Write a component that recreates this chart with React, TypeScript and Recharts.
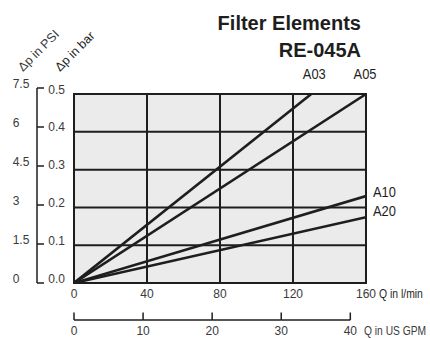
import React from 'react';
import { ComposedChart, Line, XAxis, YAxis, ReferenceArea, ReferenceLine } from 'recharts';

// ---- data ----
const FLOW_TICKS = [0, 40, 80, 120, 160]; // l/min
const GPM_TICKS = [0, 10, 20, 30, 40]; // US GPM
const BAR_TICKS = [0, 0.1, 0.2, 0.3, 0.4, 0.5];
const PSI_TICKS = [0, 1.5, 3, 4.5, 6, 7.5];
const FLOW_GRID = [40, 80, 120];
const BAR_GRID = [0.1, 0.2, 0.3, 0.4];
const FLOW_MAX = 160;
const DP_MAX = 0.5;
const PSI_MAX = 7.5;
const LPM_PER_GPM = 3.785;

const A03_FLOW = [0, 130];
const A03_DP = [0, 0.5];
const A05_FLOW = [0, 160];
const A05_DP = [0, 0.5];
const A10_FLOW = [0, 160];
const A10_DP = [0, 0.23];
const A20_FLOW = [0, 160];
const A20_DP = [0, 0.174];

const SERIES_NAMES = ['A03', 'A05', 'A10', 'A20'];

// GPM ticks expressed on the l/min scale
const GPM_TICKS_LPM = GPM_TICKS.map((g) => g * LPM_PER_GPM);

// ---- layout / style ----
const W = 430;
const H = 338;
const MARGIN = { top: 88, right: 64, bottom: 0, left: 0 };
const BAR_AXIS_W = 37;
const PSI_AXIS_W = 37;
const PLOT_W = W - MARGIN.left - MARGIN.right - BAR_AXIS_W - PSI_AXIS_W;
const DP_AXIS_TOP = 0.516; // pressure bracket reaches slightly above the grid

const FONT = '"Liberation Sans", Arial, Helvetica, sans-serif';
const INK = '#1e1e1e';
const TXT = '#3a3a3a';
const BG = '#ebebeb';

const LABEL_POS: Record<string, { dx: number; dy: number; anchor: string }> = {
  A03: { dx: 3, dy: -15, anchor: 'middle' },
  A05: { dx: -1, dy: -15, anchor: 'middle' },
  A10: { dx: 7, dy: 1, anchor: 'start' },
  A20: { dx: 7, dy: -1, anchor: 'start' },
};

const toPoints = (flow: number[], dp: number[]) => flow.map((q, i) => ({ q, dp: dp[i] }));
const SERIES = [
  toPoints(A03_FLOW, A03_DP),
  toPoints(A05_FLOW, A05_DP),
  toPoints(A10_FLOW, A10_DP),
  toPoints(A20_FLOW, A20_DP),
];

const BarTick = (props: any) => {
  const { x, y, payload } = props;
  return (
    <text x={x - 25.7} y={y - 0.5} textAnchor="start" fontFamily={FONT} fontSize={12} fill={TXT}>
      {Number(payload.value).toFixed(1)}
    </text>
  );
};

const PsiTick = (props: any) => {
  const { x, y, payload } = props;
  return (
    <g>
      <line x1={x} x2={x + 7} y1={y} y2={y} stroke={INK} strokeWidth={1.5} />
      <text x={x - 24.3} y={y - 0.5} textAnchor="start" fontFamily={FONT} fontSize={12} fill={TXT}>
        {String(payload.value)}
      </text>
    </g>
  );
};

const FlowTick = (props: any) => {
  const { x, y, payload } = props;
  return (
    <text x={x} y={y + 15.3} textAnchor="middle" fontFamily={FONT} fontSize={12} fill={TXT}>
      {String(payload.value)}
    </text>
  );
};

const GPM_STEP_PX = ((GPM_TICKS_LPM[1] - GPM_TICKS_LPM[0]) * PLOT_W) / FLOW_MAX;
const GpmTick = (props: any) => {
  const { x, y, payload } = props;
  const ay = y + 17;
  const gpm = Math.round(payload.value / LPM_PER_GPM);
  return (
    <g>
      <line x1={x} x2={x} y1={ay - 7.5} y2={ay} stroke={INK} strokeWidth={1.5} />
      {gpm > GPM_TICKS[0] && (
        <line x1={x - GPM_STEP_PX} x2={x} y1={ay} y2={ay} stroke={INK} strokeWidth={1.5} />
      )}
      <text x={x} y={y + 32.3} textAnchor="middle" fontFamily={FONT} fontSize={12} fill={TXT}>
        {String(gpm)}
      </text>
    </g>
  );
};

const makeLabel = (name: string, lastIndex: number) => (props: any) => {
  const { x, y, index } = props;
  if (index !== lastIndex) return null;
  const p = LABEL_POS[name];
  return (
    <text
      transform={`translate(${x + p.dx} ${y + p.dy}) scale(0.86 1)`}
      textAnchor={p.anchor}
      fontFamily={FONT}
      fontSize={15}
      fill={INK}
    >
      {name}
    </text>
  );
};

export default function App() {
  return (
    <div style={{ position: 'absolute', left: 0, top: 0, width: W, height: H, background: '#fff' }}>
      <ComposedChart width={W} height={H} margin={MARGIN}>
        <XAxis
          xAxisId="flow"
          dataKey="q"
          type="number"
          domain={[0, FLOW_MAX]}
          ticks={FLOW_TICKS}
          interval={0}
          allowDataOverflow
          axisLine={false}
          tickLine={false}
          tickSize={0}
          tickMargin={0}
          height={20}
          tick={<FlowTick />}
        />
        <XAxis
          xAxisId="gpm"
          dataKey="q"
          type="number"
          domain={[0, FLOW_MAX]}
          ticks={GPM_TICKS_LPM}
          interval={0}
          allowDataOverflow
          axisLine={false}
          tickLine={false}
          tickSize={0}
          tickMargin={0}
          height={35}
          tick={<GpmTick />}
        />
        <YAxis
          yAxisId="dp"
          type="number"
          domain={[0, DP_AXIS_TOP]}
          ticks={BAR_TICKS}
          interval={0}
          allowDataOverflow
          axisLine={false}
          tickLine={false}
          tickSize={0}
          tickMargin={0}
          width={BAR_AXIS_W}
          tick={<BarTick />}
        />
        <YAxis
          yAxisId="psi"
          type="number"
          domain={[0, PSI_MAX]}
          ticks={PSI_TICKS}
          interval={0}
          allowDataOverflow
          axisLine={{ stroke: INK, strokeWidth: 1.5 }}
          tickLine={false}
          tickSize={0}
          tickMargin={0}
          width={PSI_AXIS_W}
          tick={<PsiTick />}
        />
        <ReferenceArea
          xAxisId="flow"
          yAxisId="dp"
          x1={0}
          x2={FLOW_MAX}
          y1={0}
          y2={DP_MAX}
          fill={BG}
          fillOpacity={1}
          stroke="none"
        />
        {FLOW_GRID.map((q) => (
          <ReferenceLine
            key={'v' + q}
            xAxisId="flow"
            yAxisId="dp"
            segment={[
              { x: q, y: 0 },
              { x: q, y: DP_MAX },
            ]}
            stroke={INK}
            strokeWidth={2}
          />
        ))}
        {BAR_GRID.map((v) => (
          <ReferenceLine
            key={'h' + v}
            xAxisId="flow"
            yAxisId="dp"
            segment={[
              { x: 0, y: v },
              { x: FLOW_MAX, y: v },
            ]}
            stroke={INK}
            strokeWidth={2}
          />
        ))}
        <ReferenceArea
          xAxisId="flow"
          yAxisId="dp"
          x1={0}
          x2={FLOW_MAX}
          y1={0}
          y2={DP_MAX}
          fill="none"
          stroke={INK}
          strokeWidth={2}
        />
        {SERIES.map((data, i) => (
          <Line
            key={SERIES_NAMES[i]}
            xAxisId="flow"
            yAxisId="dp"
            data={data}
            dataKey="dp"
            type="linear"
            stroke={INK}
            strokeWidth={2.6}
            dot={false}
            activeDot={false}
            isAnimationActive={false}
            label={makeLabel(SERIES_NAMES[i], data.length - 1)}
          />
        ))}
      </ComposedChart>
      <svg
        width={W}
        height={H}
        style={{ position: 'absolute', left: 0, top: 0, pointerEvents: 'none' }}
      >
        <text x={361} y={30} textAnchor="end" fontFamily={FONT} fontWeight="bold" fontSize={20} fill={INK}>
          Filter Elements
        </text>
        <text x={361} y={56.5} textAnchor="end" fontFamily={FONT} fontWeight="bold" fontSize={20} fill={INK}>
          RE-045A
        </text>
        <text x={23} y={72} transform="rotate(-45 23 72)" fontFamily={FONT} fontSize={12.5} fill={TXT}>
          Δp in PSI
        </text>
        <text x={60} y={72} transform="rotate(-45 60 72)" fontFamily={FONT} fontSize={12.5} fill={INK}>
          Δp in bar
        </text>
        <text transform="translate(379 298.3) scale(0.8 1)" fontFamily={FONT} fontSize={13} fill={INK}>
          Q in l/min
        </text>
        <text transform="translate(364 335.3) scale(0.82 1)" fontFamily={FONT} fontSize={12.5} fill={TXT}>
          Q in US GPM
        </text>
      </svg>
    </div>
  );
}
